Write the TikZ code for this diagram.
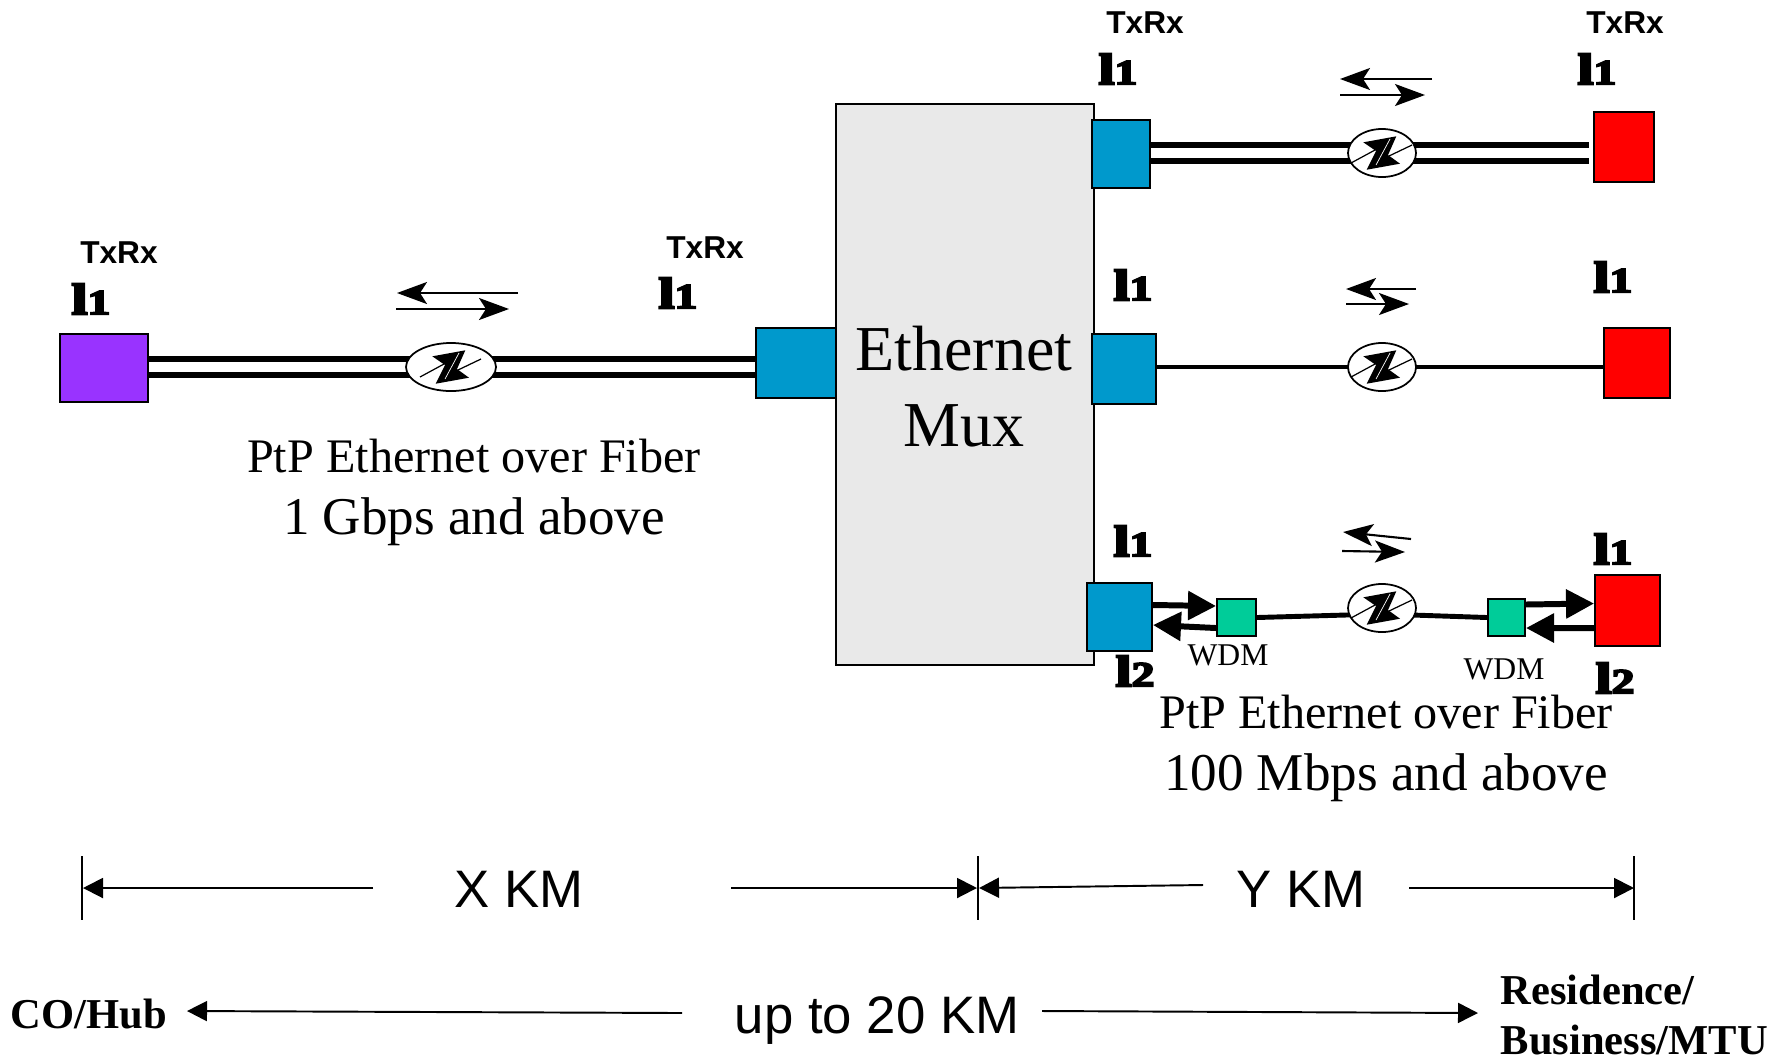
\documentclass[tikz,border=0pt]{standalone}
\usepackage{fontspec}
\setmainfont{Liberation Serif}
\setsansfont{Liberation Sans}
\newfontfamily\lamfont[FakeBold=5]{Liberation Serif}
\usetikzlibrary{positioning}
\usetikzlibrary{arrows.meta,shapes.geometric,backgrounds}
\definecolor{portblue}{HTML}{0099CC}
\definecolor{portred}{HTML}{FF0000}
\definecolor{portpurple}{HTML}{9933FF}
\definecolor{wdmgreen}{HTML}{00CC99}
\definecolor{muxgray}{HTML}{E9E9E9}
\newcommand{\ratetext}[1]{{\fontsize{15.1}{17}\selectfont #1}}
\newcommand{\lamsub}[1]{{\fontsize{10}{10}\selectfont #1}}
\tikzset{
  port/.style={draw,line width=0.55pt,inner sep=0pt,minimum width=#1*0.01cm},
  amp/.style={draw,ellipse,fill=white,line width=0.5pt,inner sep=0pt,minimum height=0.48cm,minimum width=#1*0.01cm,
    path picture={
      \begin{scope}[shift={(path picture bounding box.center)},xscale=#1/90]
        \fill[black] (-18.7,-10.7) -- (14.3,-16.7) -- (6,2) -- (18,10.7) -- (-15.3,16.7) -- (-6,-2) -- cycle;
        \draw[black,line width=0.35pt] (-31,10) -- (-7,-3) (7,3) -- (30,-8);
        \draw[white,line width=0.2pt] (-6,12) -- (8,-14);
      \end{scope}}},
  fiber/.style={line width=1.7pt,double=white,double distance=2.85pt},
  copper/.style={line width=1.4pt},
  thinarrow/.style={line width=0.6pt,-{Stealth[length=0.3cm,width=0.22cm,inset=0.07cm]}},
  fatarrow/.style={line width=1.7pt,-{Triangle[length=0.28cm,width=0.28cm]}},
  span/.style={line width=0.55pt,-{Triangle[length=0.2cm,width=0.2cm]}},
  tick/.style={line width=0.55pt},
  txrx/.style={font=\sffamily\bfseries\fontsize{9}{11}\selectfont},
  lam/.style={font=\lamfont\bfseries\fontsize{12.5}{14}\selectfont,inner sep=0pt,transform shape,xscale=1.3},
  caption/.style={font=\fontsize{13.7}{17.8}\selectfont,align=center},
  wdmtext/.style={font=\fontsize{9}{11}\selectfont},
  kmtext/.style={font=\sffamily\fontsize{15}{18}\selectfont},
  endtext/.style={font=\bfseries\fontsize{12.1}{14.4}\selectfont,align=left},
}
\begin{document}
\begin{tikzpicture}[x=0.01cm,y=-0.01cm]
	  \useasboundingbox (0,0) rectangle (1789,1057);
	  % mux and ports
	  \node (mux) [draw,fill=muxgray,line width=0.55pt,minimum width=2.58cm,minimum height=5.61cm,inner sep=0pt] at (965,384.5) {};
	  \node (muxtext) [font=\fontsize{18.2}{21.6}\selectfont,align=center] at (964,387) {Ethernet\\Mux};
	  \node (hub) [port=88,fill=portpurple,minimum height=0.68cm] at (104,368) {};
	  \node (muxL) [port=80,fill=portblue,minimum height=0.70cm] at (796,363) {};
	  \node (muxT) [port=58,fill=portblue,minimum height=0.68cm] at (1121,154) {};
	  \node (muxM) [port=64,fill=portblue,minimum height=0.70cm] at (1124,369) {};
	  \node (muxB) [port=65,fill=portblue,minimum height=0.68cm] at (1119.5,617) {};
	  \node (resT) [port=60,fill=portred,minimum height=0.70cm] at (1624,147) {};
	  \node (resM) [port=66,fill=portred,minimum height=0.70cm] at (1637,363) {};
	  \node (resB) [port=65,fill=portred,minimum height=0.71cm] at (1627.5,610.5) {};
	  \node (wdmL) [port=39,fill=wdmgreen,minimum height=0.37cm] at (1236.5,617.5) {};
	  \node (wdmR) [port=37,fill=wdmgreen,minimum height=0.37cm] at (1506.5,617.5) {};
	  % amplifiers
	  \node (ampL) [amp=90] at (451,367) {};
	  \node (ampT) [amp=68] at (1382,153) {};
	  \node (ampM) [amp=68] at (1382,367) {};
	  \node (ampB) [amp=68] at (1382,608) {};
	  % links
	  \begin{pgfonlayer}{background}
	    \draw[fiber] (ampL.center -| hub.east) -- (ampL.center);
	    \draw[fiber] (ampL.center) -- (ampL.center -| muxL.west);
	    \draw[fiber] (ampT.center -| muxT.east) -- (ampT.center);
	    \draw[fiber] (ampT.center) -- ([xshift=-0.04cm]ampT.center -| resT.west);
	    \draw[copper] (ampM.center -| muxM.east) -- (ampM.center);
	    \draw[copper] (ampM.center) -- (ampM.center -| resM.west);
	    \draw[copper] (wdmL.east) -- ([yshift=-0.06cm]ampB.center);
	    \draw[copper] ([yshift=-0.06cm]ampB.center) -- (wdmR.west);
	  \end{pgfonlayer}
	  \draw[fatarrow] ([yshift=0.12cm]muxB.east) -- ([yshift=0.115cm]wdmL.west);
	  \draw[fatarrow] ([yshift=-0.105cm]wdmL.west) -- ([yshift=-0.08cm]muxB.east);
	  \draw[fatarrow] ([yshift=0.13cm]wdmR.east) -- ([yshift=0.07cm]resB.west);
	  \draw[fatarrow] ([yshift=-0.175cm]resB.west) -- ([yshift=-0.105cm]wdmR.east);
	  % direction arrows
	  \foreach \nm/\xa/\ya/\xb/\yb in {dirLa/518/293/397/293,dirLb/396/309/509/309,dirTa/1432/79/1340/79,dirTb/1340/95/1425/95,dirMa/1416/289/1346/289,dirMb/1346/304/1409/304,dirBa/1411/539/1343/532,dirBb/1342/551/1405/552}{
	    \coordinate (\nm s) at (\xa,\ya);
	    \coordinate (\nm e) at (\xb,\yb);
	    \draw[thinarrow] (\nm s) -- (\nm e);
	  }
	  % distance bar
	  \foreach \nm/\xa/\ya/\xb/\yb in {spanXa/373/888/83/888,spanXb/731/888/977/888,spanYa/1203/885/979/888,spanYb/1409/888/1634/888,spanCa/682/1013/187/1011,spanCb/1042/1011/1478/1013}{
	    \coordinate (\nm s) at (\xa,\ya);
	    \coordinate (\nm e) at (\xb,\yb);
	    \draw[span] (\nm s) -- (\nm e);
	  }
	  \foreach \nm/\xa in {tickA/82,tickB/978,tickC/1634}{
	    \coordinate (\nm s) at (\xa,856);
	    \coordinate (\nm e) at (\xa,920);
	    \draw[tick] (\nm s) -- (\nm e);
	  }
	  % labels
	  \node (txA) [txrx] at (119,253) {TxRx};
	  \node (txB) [txrx] at (705,248) {TxRx};
	  \node (txC) [txrx] at (1145,23) {TxRx};
	  \node (txD) [txrx] at (1625,23) {TxRx};
	  \node (lamA) [lam] at (91,299) {l\lamsub{1}};
	  \node (lamB) [lam] at (678,293) {l\lamsub{1}};
	  \node (lamC) [lam] at (1118,69) {l\lamsub{1}};
	  \node (lamD) [lam] at (1597,69) {l\lamsub{1}};
	  \node (lamE) [lam] at (1133,285) {l\lamsub{1}};
	  \node (lamF) [lam] at (1613,277) {l\lamsub{1}};
	  \node (lamG) [lam] at (1133,541) {l\lamsub{1}};
	  \node (lamH) [lam] at (1613,549) {l\lamsub{1}};
	  \node (lamI) [lam] at (1135,671) {l\lamsub{2}};
	  \node (lamJ) [lam] at (1615,678) {l\lamsub{2}};
	  \node (wdmtextL) [wdmtext] at (1228,655) {WDM};
	  \node (wdmtextR) [wdmtext] at (1504,669) {WDM};
	  \node (capL) [caption] at (474,492.5) {PtP Ethernet over Fiber\\\ratetext{1 Gbps and above}};
	  \node (capR) [caption] at (1386,748.5) {PtP Ethernet over Fiber\\\ratetext{100 Mbps and above}};
	  \node (kmX) [kmtext] at (519,889) {X KM};
	  \node (kmY) [kmtext] at (1301,889) {Y KM};
	  \node (kmAll) [kmtext] at (877,1021) {up to 20 KM};
	  \node (co) [endtext] at (89,1014) {CO/Hub};
	  \node (res) [endtext,anchor=west,inner sep=0pt] at (1500,1015) {Residence/\\Business/MTU};
	\end{tikzpicture}
\end{document}
